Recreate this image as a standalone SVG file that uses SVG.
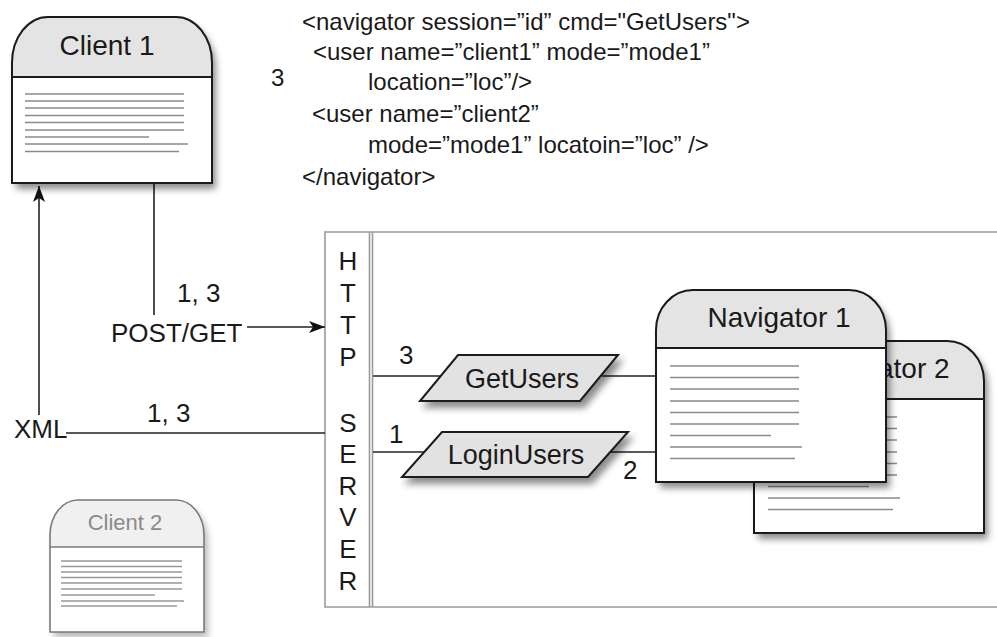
<svg xmlns="http://www.w3.org/2000/svg" width="997" height="637" viewBox="0 0 997 637">
<defs>
<filter id="sh" x="-20%" y="-20%" width="150%" height="150%">
<feDropShadow dx="4" dy="6" stdDeviation="3.5" flood-color="#000" flood-opacity="0.45"/>
</filter>
<marker id="ah" viewBox="0 0 16 12" refX="16" refY="6" markerWidth="16" markerHeight="12" markerUnits="userSpaceOnUse" orient="auto">
<path d="M0,0 L16,6 L0,12 L4,6 Z" fill="#111"/>
</marker>
</defs>
<style>
text{font-family:"Liberation Sans",Arial,sans-serif;fill:#1a1a1a}
.xml{font-size:24px}
.lbl{font-size:26px}
.srv{font-size:26px;text-anchor:middle}
.op{font-size:27px;text-anchor:middle}
.title{font-size:28px;text-anchor:middle}
.hdr{fill:#e4e4e4}
.body{fill:#fff}
.outl{fill:none;stroke:#1a1a1a;stroke-width:2}
.tl{stroke:#8a8a8a;stroke-width:1.6}
.conn{stroke:#222;stroke-width:1.6;fill:none}
.para{fill:#e2e2e2;stroke:#1a1a1a;stroke-width:2}
.srvb{fill:none;stroke:#9a9a9a;stroke-width:1.6}
</style>

<g id="xml-text">
<text class="xml" x="302" y="30">&lt;navigator session=”id”  cmd="GetUsers"&gt;</text>
<text class="xml" x="313" y="60">&lt;user name=”client1” mode=”mode1”</text>
<text class="xml" x="368" y="90">location=”loc”/&gt;</text>
<text class="xml" x="312" y="122">&lt;user name=”client2”</text>
<text class="xml" x="368" y="153">mode=”mode1” locatoin=”loc” /&gt;</text>
<text class="xml" x="302" y="185">&lt;/navigator&gt;</text>
<text class="xml" x="271" y="86">3</text>
</g>

<g id="server">
<path class="srvb" d="M1000,232 L325,232 L325,607 L1000,607"/>
<line class="srvb" x1="369.5" y1="232" x2="369.5" y2="607"/>
<line class="srvb" x1="372.5" y1="232" x2="372.5" y2="607"/>
<text class="srv" x="348" y="270">H</text>
<text class="srv" x="348" y="302">T</text>
<text class="srv" x="348" y="334">T</text>
<text class="srv" x="348" y="366">P</text>
<text class="srv" x="348" y="432">S</text>
<text class="srv" x="348" y="463">E</text>
<text class="srv" x="348" y="495">R</text>
<text class="srv" x="348" y="526">V</text>
<text class="srv" x="348" y="558">E</text>
<text class="srv" x="348" y="590">R</text>
</g>

<g id="connectors">
<line class="conn" x1="154" y1="183" x2="154" y2="315"/>
<line class="conn" x1="247" y1="327" x2="325" y2="327" marker-end="url(#ah)"/>
<line class="conn" x1="39" y1="415" x2="39" y2="186" marker-end="url(#ah)"/>
<line class="conn" x1="66" y1="433" x2="325" y2="433"/>
<line class="conn" x1="373" y1="376" x2="440" y2="376"/>
<line class="conn" x1="602" y1="376" x2="656" y2="376"/>
<line class="conn" x1="373" y1="452" x2="427" y2="452"/>
<line class="conn" x1="607" y1="452" x2="656" y2="452"/>
<text class="lbl" x="177" y="302">1, 3</text>
<text class="lbl" x="111" y="342">POST/GET</text>
<text class="lbl" x="14" y="438">XML</text>
<text class="lbl" x="147" y="422">1, 3</text>
<text class="lbl" x="399" y="364">3</text>
<text class="lbl" x="389" y="443">1</text>
<text class="lbl" x="623" y="479">2</text>
</g>

<g id="getusers">
<polygon class="para" filter="url(#sh)" points="458,355 618,355 580,401 420,401"/>
<text class="op" x="522" y="388">GetUsers</text>
</g>

<g id="loginusers">
<polygon class="para" filter="url(#sh)" points="442,432 628,432 588,477 402,477"/>
<text class="op" x="516" y="464">LoginUsers</text>
</g>

<g id="client1">
<g filter="url(#sh)">
<path class="body" d="M12,183 L12,63 A36,46 0 0 1 48,17 L176,17 A36,46 0 0 1 212,63 L212,183 Z"/>
</g>
<path class="hdr" d="M12,77 L12,63 A36,46 0 0 1 48,17 L176,17 A36,46 0 0 1 212,63 L212,77 Z"/>
<path class="outl" d="M12,183 L12,63 A36,46 0 0 1 48,17 L176,17 A36,46 0 0 1 212,63 L212,183 Z M12,77 L212,77"/>
<text class="title" x="107" y="55">Client 1</text>
<g class="tl">
<line x1="25" y1="94" x2="184" y2="94"/>
<line x1="25" y1="101" x2="184" y2="101"/>
<line x1="25" y1="108" x2="184" y2="108"/>
<line x1="25" y1="115.5" x2="184" y2="115.5"/>
<line x1="25" y1="122.5" x2="184" y2="122.5"/>
<line x1="25" y1="130" x2="184" y2="130"/>
<line x1="25" y1="137" x2="149" y2="137"/>
<line x1="25" y1="144" x2="188" y2="144"/>
<line x1="25" y1="151.5" x2="179" y2="151.5"/>
</g>
</g>

<g id="client2">
<g filter="url(#sh)" opacity="0.6">
<path class="body" d="M50,632 L50,535 A28,35 0 0 1 78,500 L176,500 A28,35 0 0 1 204,535 L204,632 Z"/>
</g>
<path fill="#f0f0f0" d="M50,547 L50,535 A28,35 0 0 1 78,500 L176,500 A28,35 0 0 1 204,535 L204,547 Z"/>
<path fill="none" stroke="#7a7a7a" stroke-width="1.6" d="M50,632 L50,535 A28,35 0 0 1 78,500 L176,500 A28,35 0 0 1 204,535 L204,632 Z M50,547 L204,547"/>
<text x="125" y="530" style="font-size:22px;text-anchor:middle;fill:#8a8a8a">Client 2</text>
<g stroke="#999" stroke-width="1.3">
<line x1="61" y1="561" x2="182" y2="561"/>
<line x1="61" y1="566.5" x2="182" y2="566.5"/>
<line x1="61" y1="572" x2="182" y2="572"/>
<line x1="61" y1="577.5" x2="182" y2="577.5"/>
<line x1="61" y1="583" x2="182" y2="583"/>
<line x1="61" y1="589" x2="182" y2="589"/>
<line x1="61" y1="595" x2="155" y2="595"/>
<line x1="61" y1="601" x2="184" y2="601"/>
<line x1="61" y1="606" x2="177" y2="606"/>
</g>
</g>

<g id="navigator2">
<g filter="url(#sh)">
<path class="body" d="M754,533 L754,381 A37,40 0 0 1 791,341 L947,341 A37,40 0 0 1 984,381 L984,533 Z"/>
</g>
<path class="hdr" d="M754,399 L754,381 A37,40 0 0 1 791,341 L947,341 A37,40 0 0 1 984,381 L984,399 Z"/>
<path class="outl" d="M754,533 L754,381 A37,40 0 0 1 791,341 L947,341 A37,40 0 0 1 984,381 L984,533 Z M754,399 L984,399"/>
<text class="title" x="878" y="378">Navigator 2</text>
<g class="tl">
<line x1="768" y1="417" x2="897" y2="417"/>
<line x1="768" y1="428.5" x2="897" y2="428.5"/>
<line x1="768" y1="440" x2="897" y2="440"/>
<line x1="768" y1="452" x2="897" y2="452"/>
<line x1="768" y1="463.5" x2="897" y2="463.5"/>
<line x1="768" y1="475" x2="897" y2="475"/>
<line x1="768" y1="486.5" x2="869" y2="486.5"/>
<line x1="768" y1="498" x2="900" y2="498"/>
<line x1="768" y1="509.5" x2="893" y2="509.5"/>
</g>
</g>

<g id="navigator1">
<g filter="url(#sh)">
<path class="body" d="M656,482 L656,330 A37,40 0 0 1 693,290 L849,290 A37,40 0 0 1 886,330 L886,482 Z"/>
</g>
<path class="hdr" d="M656,348 L656,330 A37,40 0 0 1 693,290 L849,290 A37,40 0 0 1 886,330 L886,348 Z"/>
<path class="outl" d="M656,482 L656,330 A37,40 0 0 1 693,290 L849,290 A37,40 0 0 1 886,330 L886,482 Z M656,348 L886,348"/>
<text class="title" x="779" y="327">Navigator 1</text>
<g class="tl">
<line x1="670" y1="366" x2="799" y2="366"/>
<line x1="670" y1="377.5" x2="799" y2="377.5"/>
<line x1="670" y1="389" x2="799" y2="389"/>
<line x1="670" y1="401" x2="799" y2="401"/>
<line x1="670" y1="412.5" x2="799" y2="412.5"/>
<line x1="670" y1="424" x2="799" y2="424"/>
<line x1="670" y1="435.5" x2="771" y2="435.5"/>
<line x1="670" y1="447" x2="802" y2="447"/>
<line x1="670" y1="458.5" x2="795" y2="458.5"/>
</g>
</g>
</svg>
